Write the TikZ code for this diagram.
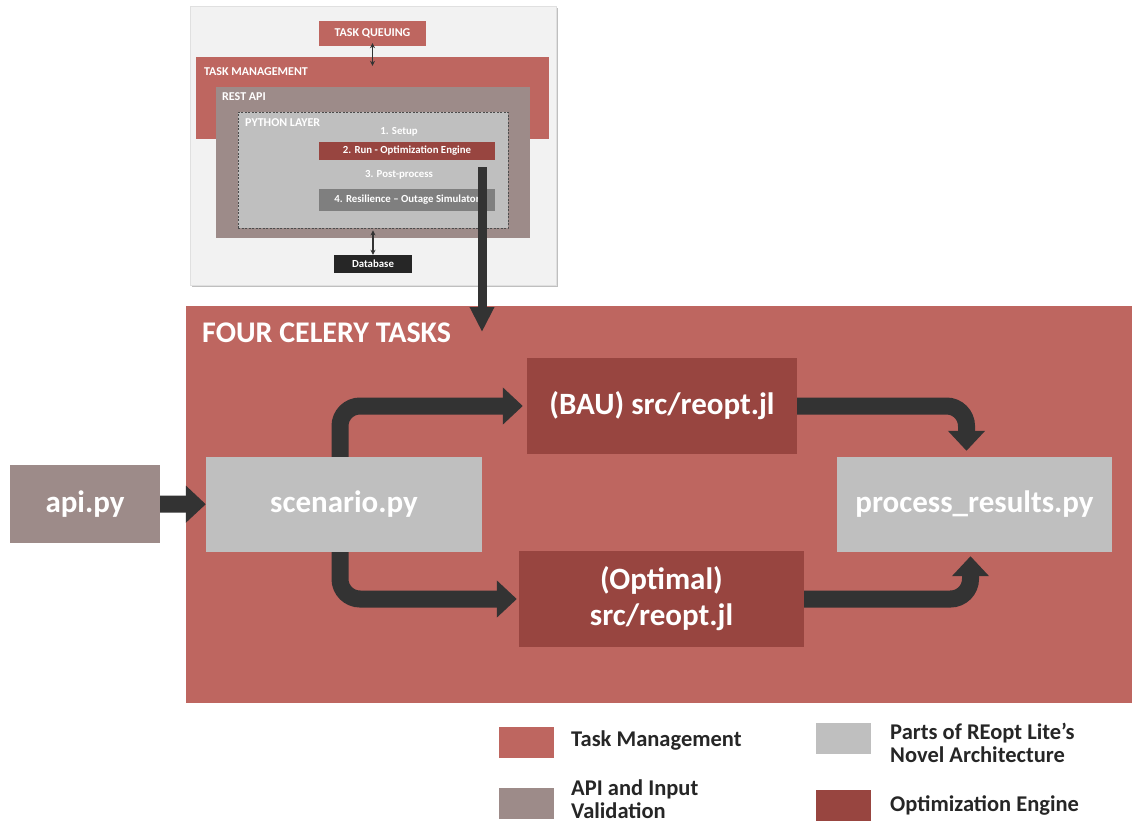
\documentclass[tikz,border=0pt]{standalone}
\usepackage{fontspec}
\setmainfont{Carlito}
\usetikzlibrary{arrows.meta}

\definecolor{mgmtred}{RGB}{190,102,96}
\definecolor{optred}{RGB}{152,69,64}
\definecolor{apigray}{RGB}{157,139,137}
\definecolor{partgray}{RGB}{191,191,191}
\definecolor{simgray}{RGB}{127,127,127}
\definecolor{arrowgray}{RGB}{51,51,51}
\definecolor{insetbg}{RGB}{242,242,242}
\definecolor{dbblack}{RGB}{38,38,38}

\tikzset{
  box/.style={rectangle, inner sep=0pt, text=white, align=center,
    font=\bfseries\fontsize{31}{36}\selectfont},
  smallbox/.style={rectangle, inner sep=0pt, text=white,
    font=\bfseries\fontsize{10.8}{12}\selectfont},
  tag/.style={inner sep=0pt, anchor=west, text=white,
    font=\bfseries\fontsize{12}{14}\selectfont},
  swatch/.style={rectangle, inner sep=0pt, minimum width=55pt, minimum height=31pt},
  legendtext/.style={inner sep=0pt, anchor=west, align=left, text=dbblack,
    font=\bfseries\fontsize{22.5}{23}\selectfont},
  flow/.style={arrowgray, line width=17pt, rounded corners=20pt,
    -{Triangle[width=36pt,length=20pt]}},
  link/.style={arrowgray, line width=1.5pt, {Stealth[length=5pt,width=5pt]}-{Stealth[length=5pt,width=5pt]}}
}

\begin{document}
\begin{tikzpicture}[x=1pt,y=-1pt]
  \useasboundingbox (0,0) rectangle (1132,823);

  % small overview of the stack
  \fill[black!25] (192,8) rectangle (558,287);
  \draw[black!12,fill=insetbg] (190,6) rectangle (556,285);
  \node[smallbox, font=\bfseries\fontsize{12}{14}\selectfont, fill=mgmtred, minimum width=107pt, minimum height=25pt] (queue) at (372.5,33.5) {TASK QUEUING};
  \node[box, fill=mgmtred, minimum width=353pt, minimum height=82pt] (mgmt) at (372.5,98) {};
  \node[tag] at (204,72) {TASK MANAGEMENT};
  \node[box, fill=apigray, minimum width=314pt, minimum height=151pt] (restapi) at (373,162.5) {};
  \node[tag] at (222,97) {REST API};
  \node[box, fill=partgray, draw=black!70, dashed, dash pattern=on 2pt off 1.5pt, line width=0.8pt,
    minimum width=270pt, minimum height=116pt] (pylayer) at (373,170) {};
  \node[tag] at (245,123) {PYTHON LAYER};
  \node[smallbox] (setup) at (399,132) {1. Setup};
  \node[smallbox, fill=optred, minimum width=176pt, minimum height=18pt] (run) at (407,151) {2. Run - Optimization Engine};
  \node[smallbox] (post) at (399,175) {3. Post-process};
  \node[smallbox, fill=simgray, minimum width=176pt, minimum height=22pt] (sim) at (407,200) {4. Resilience – Outage Simulator};
  \node[smallbox, fill=dbblack, minimum width=78pt, minimum height=18pt] (db) at (373,264) {Database};
  \draw[link] ([yshift=3pt]queue.south) -- ([yshift=-9pt]queue.south |- mgmt.north);
  \draw[link] ([yshift=-2pt]pylayer.south) -- (db.north);

  % the celery tasks
  \node[box, fill=mgmtred, minimum width=946pt, minimum height=397pt] (celery) at (659,504.5) {};
  \node[box, anchor=west, font=\bfseries\fontsize{30}{34}\selectfont] at (202,333) {FOUR CELERY TASKS};
  \coordinate (drop) at (482,332);

  \node[box, fill=apigray, minimum width=150pt, minimum height=78pt] (api) at (85,504) {api.py};
  \node[box, fill=partgray, minimum width=276pt, minimum height=95pt] (scen) at (344,504.5) {scenario.py};
  \node[box, fill=optred, minimum width=270pt, minimum height=96pt] (bau) at (662,406) {(BAU) src/reopt.jl};
  \node[box, fill=optred, minimum width=285pt, minimum height=96pt] (opt) at (661.5,599) {(Optimal)\\src/reopt.jl};
  \node[box, fill=partgray, minimum width=275pt, minimum height=95pt] (proc) at (974.5,504.5) {process\_results.py};

  \draw[flow] (api) -- (scen);
  \draw[flow, shorten >=4pt] ([xshift=-4pt]scen.north) |- (bau);
  \draw[flow, shorten >=2pt] ([xshift=-4pt]scen.south) |- (opt);
  \draw[flow, shorten >=6pt] (bau) -| ([xshift=-8pt]proc.north);
  \draw[flow, shorten >=4pt] (opt) -| ([xshift=-4pt]proc.south);

  \draw[arrowgray, line width=9pt, -{Triangle[width=23pt,length=25pt]}]
    ([yshift=-7pt]run.south -| drop) -- (drop);

  % legend
  \node[swatch, fill=mgmtred] (lgmgmt) at (526.5,742) {};
  \node[legendtext] at (571,740) {Task Management};
  \node[swatch, fill=apigray] (lgapi) at (526.5,803.5) {};
  \node[legendtext] at (571,799) {API and Input\\Validation};
  \node[swatch, fill=partgray] (lgpart) at (843,738.5) {};
  \node[legendtext] at (890,743) {Parts of REopt Lite’s\\Novel Architecture};
  \node[swatch, fill=optred] (lgopt) at (843.5,805) {};
  \node[legendtext] at (890,805) {Optimization Engine};
\end{tikzpicture}
\end{document}
